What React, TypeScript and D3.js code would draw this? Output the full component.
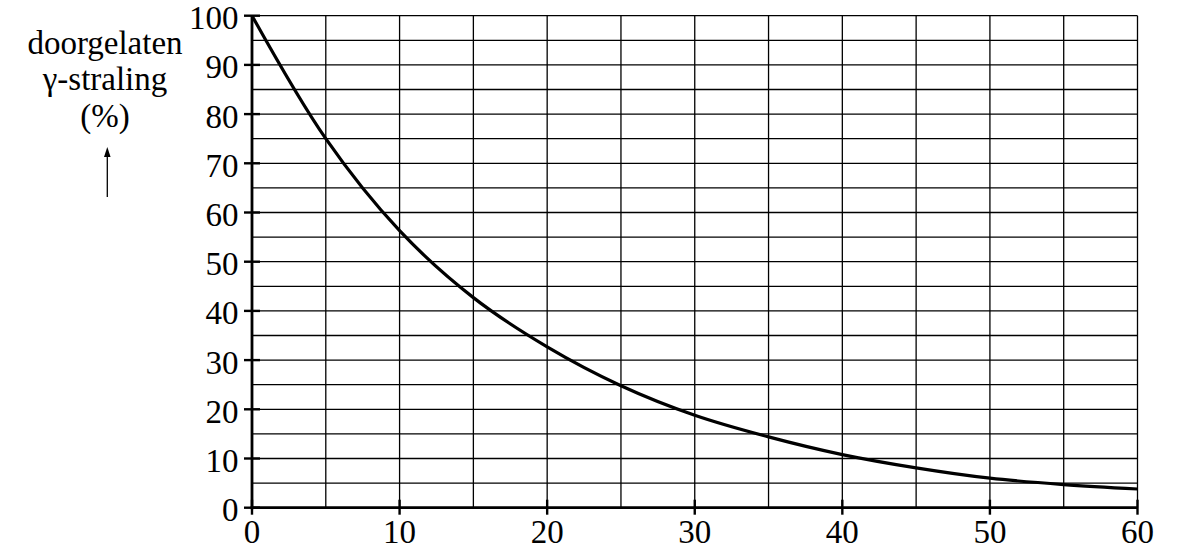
import React from "react";
import * as d3 from "d3";

const xValues = [0, 5, 10, 15, 20, 25, 30, 35, 40, 45, 50, 55, 60];
const yValues = [100, 75, 56.3, 42.7, 32.7, 24.8, 18.8, 14.4, 10.8, 8.1, 6.0, 4.7, 3.8];
const xTicks = [0, 10, 20, 30, 40, 50, 60];
const yTicks = [0, 10, 20, 30, 40, 50, 60, 70, 80, 90, 100];
const xGrid = d3.range(0, 61, 5);
const yGrid = d3.range(0, 101, 5);
const labelLines = ["doorgelaten", "γ-straling", "(%)"];

const W = 1179;
const H = 555;
const FONT = "Liberation Serif, Times New Roman, serif";

export default function App() {
  const x = d3.scaleLinear().domain([0, 60]).range([252, 1137.5]);
  const y = d3.scaleLinear().domain([0, 100]).range([507.7, 15.7]);
  const line = d3
    .line<number>()
    .x((_, i) => x(xValues[i]))
    .y((d) => y(d))
    .curve(d3.curveCatmullRom.alpha(0.5));

  return (
    <div style={{ position: "absolute", left: 0, top: 0 }}>
      <svg width={W} height={H} style={{ display: "block", background: "#fff" }}>
        {/* grid */}
        {xGrid.map((v) => (
          <line key={"gx" + v} x1={x(v)} x2={x(v)} y1={y(0)} y2={y(100)} stroke="#000" strokeWidth={1.3} />
        ))}
        {yGrid.map((v) => (
          <line key={"gy" + v} x1={x(0)} x2={x(60)} y1={y(v)} y2={y(v)} stroke="#000" strokeWidth={1.3} />
        ))}
        {/* axes */}
        <line x1={x(0)} x2={x(0)} y1={y(0) + 1.5} y2={y(100)} stroke="#000" strokeWidth={2.8} />
        <line x1={x(0) - 1.4} x2={x(60)} y1={y(0)} y2={y(0)} stroke="#000" strokeWidth={2.8} />
        {yTicks.map((v) => (
          <g key={"ty" + v}>
            <line x1={x(0) - 8} x2={x(0) + 8} y1={y(v)} y2={y(v)} stroke="#000" strokeWidth={2.4} />
            <text
              x={238.5}
              y={y(v) + 2.5}
              textAnchor="end"
              dominantBaseline="central"
              fontFamily={FONT}
              fontSize={33}
              fill="#000"
            >
              {v}
            </text>
          </g>
        ))}
        {xTicks.map((v) => (
          <g key={"tx" + v}>
            <line x1={x(v)} x2={x(v)} y1={y(0) - 8} y2={y(0) + 7} stroke="#000" strokeWidth={2.4} />
            <text
              x={x(v)}
              y={y(0) + 24.5}
              textAnchor="middle"
              dominantBaseline="central"
              fontFamily={FONT}
              fontSize={33}
              fill="#000"
            >
              {v}
            </text>
          </g>
        ))}
        {/* curve */}
        <path d={line(yValues) ?? ""} fill="none" stroke="#000" strokeWidth={3.2} />
        {/* y label */}
        {labelLines.map((t, i) => (
          <text
            key={t}
            x={105}
            y={54 + i * 36.3}
            textAnchor="middle"
            fontFamily={FONT}
            fontSize={33}
            fill="#000"
          >
            {t}
          </text>
        ))}
        <line x1={107.3} x2={107.3} y1={197} y2={152} stroke="#000" strokeWidth={1.3} />
        <path d="M107.3,147 L104,157 L110.6,157 Z" fill="#000" />
      </svg>
    </div>
  );
}
